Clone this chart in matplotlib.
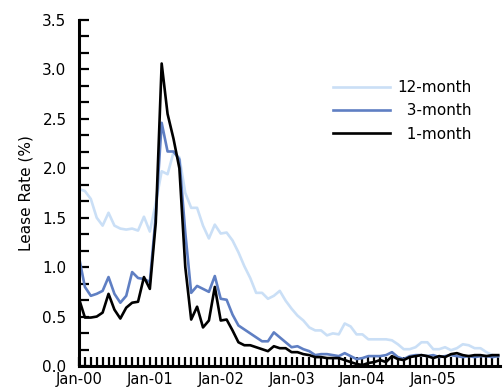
import matplotlib
matplotlib.use("Agg")
import matplotlib.pyplot as plt
from matplotlib.ticker import MultipleLocator
import numpy as np

# miesieczne stawki leasingowe, Jan-00 .. Dec-05
year_labels = ["Jan-00", "Jan-01", "Jan-02", "Jan-03", "Jan-04", "Jan-05"]

rate_12m = [1.79, 1.77, 1.69, 1.50, 1.42, 1.55, 1.42, 1.39, 1.38, 1.39, 1.37, 1.51,
            1.36, 1.65, 1.97, 1.94, 2.16, 2.11, 1.75, 1.60, 1.60, 1.42, 1.29, 1.43,
            1.34, 1.35, 1.27, 1.15, 1.01, 0.89, 0.74, 0.74, 0.68, 0.71, 0.76, 0.66,
            0.58, 0.51, 0.46, 0.39, 0.36, 0.36, 0.31, 0.33, 0.32, 0.43, 0.40, 0.32,
            0.32, 0.27, 0.27, 0.27, 0.27, 0.26, 0.22, 0.17, 0.17, 0.19, 0.24, 0.24,
            0.17, 0.17, 0.19, 0.16, 0.18, 0.22, 0.21, 0.18, 0.18, 0.14, 0.11, 0.10]

rate_3m = [1.10, 0.80, 0.71, 0.73, 0.76, 0.90, 0.73, 0.64, 0.71, 0.95, 0.89, 0.88,
           0.85, 1.52, 2.46, 2.17, 2.17, 2.09, 1.35, 0.74, 0.81, 0.78, 0.75, 0.91,
           0.68, 0.67, 0.52, 0.41, 0.37, 0.33, 0.29, 0.25, 0.25, 0.34, 0.29, 0.24,
           0.19, 0.20, 0.17, 0.15, 0.11, 0.12, 0.12, 0.11, 0.10, 0.13, 0.10, 0.07,
           0.08, 0.10, 0.10, 0.10, 0.11, 0.14, 0.09, 0.07, 0.10, 0.11, 0.11, 0.10,
           0.11, 0.09, 0.10, 0.11, 0.10, 0.09, 0.10, 0.09, 0.10, 0.10, 0.09, 0.10]

rate_1m = [0.68, 0.49, 0.49, 0.50, 0.54, 0.73, 0.57, 0.48, 0.59, 0.64, 0.65, 0.90,
           0.78, 1.45, 3.06, 2.55, 2.30, 2.00, 1.00, 0.47, 0.60, 0.39, 0.46, 0.80,
           0.46, 0.47, 0.36, 0.24, 0.21, 0.21, 0.19, 0.17, 0.15, 0.20, 0.18, 0.18,
           0.14, 0.14, 0.12, 0.11, 0.09, 0.09, 0.08, 0.08, 0.08, 0.06, 0.04, 0.02,
           0.01, 0.03, 0.04, 0.06, 0.04, 0.10, 0.07, 0.06, 0.09, 0.10, 0.11, 0.10,
           0.08, 0.10, 0.09, 0.12, 0.13, 0.11, 0.10, 0.11, 0.11, 0.10, 0.11, 0.11]

months = np.arange(len(rate_1m))

plt.rcParams["font.family"] = "DejaVu Sans"
plt.rcParams["font.size"] = 11

fig = plt.figure(figsize=(5.03, 3.90), dpi=100)
ax = fig.add_axes([79 / 503, 24 / 390, 421 / 503, 346 / 390])

ax.plot(months, rate_12m, color="#cadff6", lw=1.9, label="12-month")
ax.plot(months, rate_3m, color="#5f7fc3", lw=1.9, label="\u20073-month")
ax.plot(months, rate_1m, color="black", lw=1.9, label="\u20071-month")

ax.set_xlim(0, 71.3)
ax.set_ylim(0, 3.5)
ax.xaxis.set_minor_locator(MultipleLocator(1))
ax.set_xticks(np.arange(0, 72, 12))
ax.set_xticklabels(year_labels)
ax.yaxis.set_major_locator(MultipleLocator(0.5))
ax.yaxis.set_minor_locator(MultipleLocator(0.5 / 3))
ax.yaxis.set_major_formatter(matplotlib.ticker.FormatStrFormatter("%.1f"))

for side in ["top", "right"]:
    ax.spines[side].set_visible(False)
for side in ["left", "bottom"]:
    ax.spines[side].set_linewidth(2.2)

ax.tick_params(axis="x", which="both", direction="in", length=6.5, width=1.6, pad=4.5, labelsize=10.5)
ax.tick_params(axis="y", which="both", direction="in", length=7.5, width=1.6, pad=9, labelsize=11)

# podniesienie etykiety 0.0, zeby nie nachodzila na Jan-00
ax.get_yticklabels()[0].set_verticalalignment("bottom")
ax.set_ylabel("Lease Rate (%)", fontsize=11, labelpad=6)

ax.legend(frameon=False, loc="upper left", bbox_to_anchor=(333 / 503, 1 - 80 / 390),
          bbox_transform=fig.transFigure, borderpad=0, borderaxespad=0,
          handlelength=3.7, handletextpad=0.5, labelspacing=0.55, fontsize=11)

fig.savefig("out.png", dpi=100)
